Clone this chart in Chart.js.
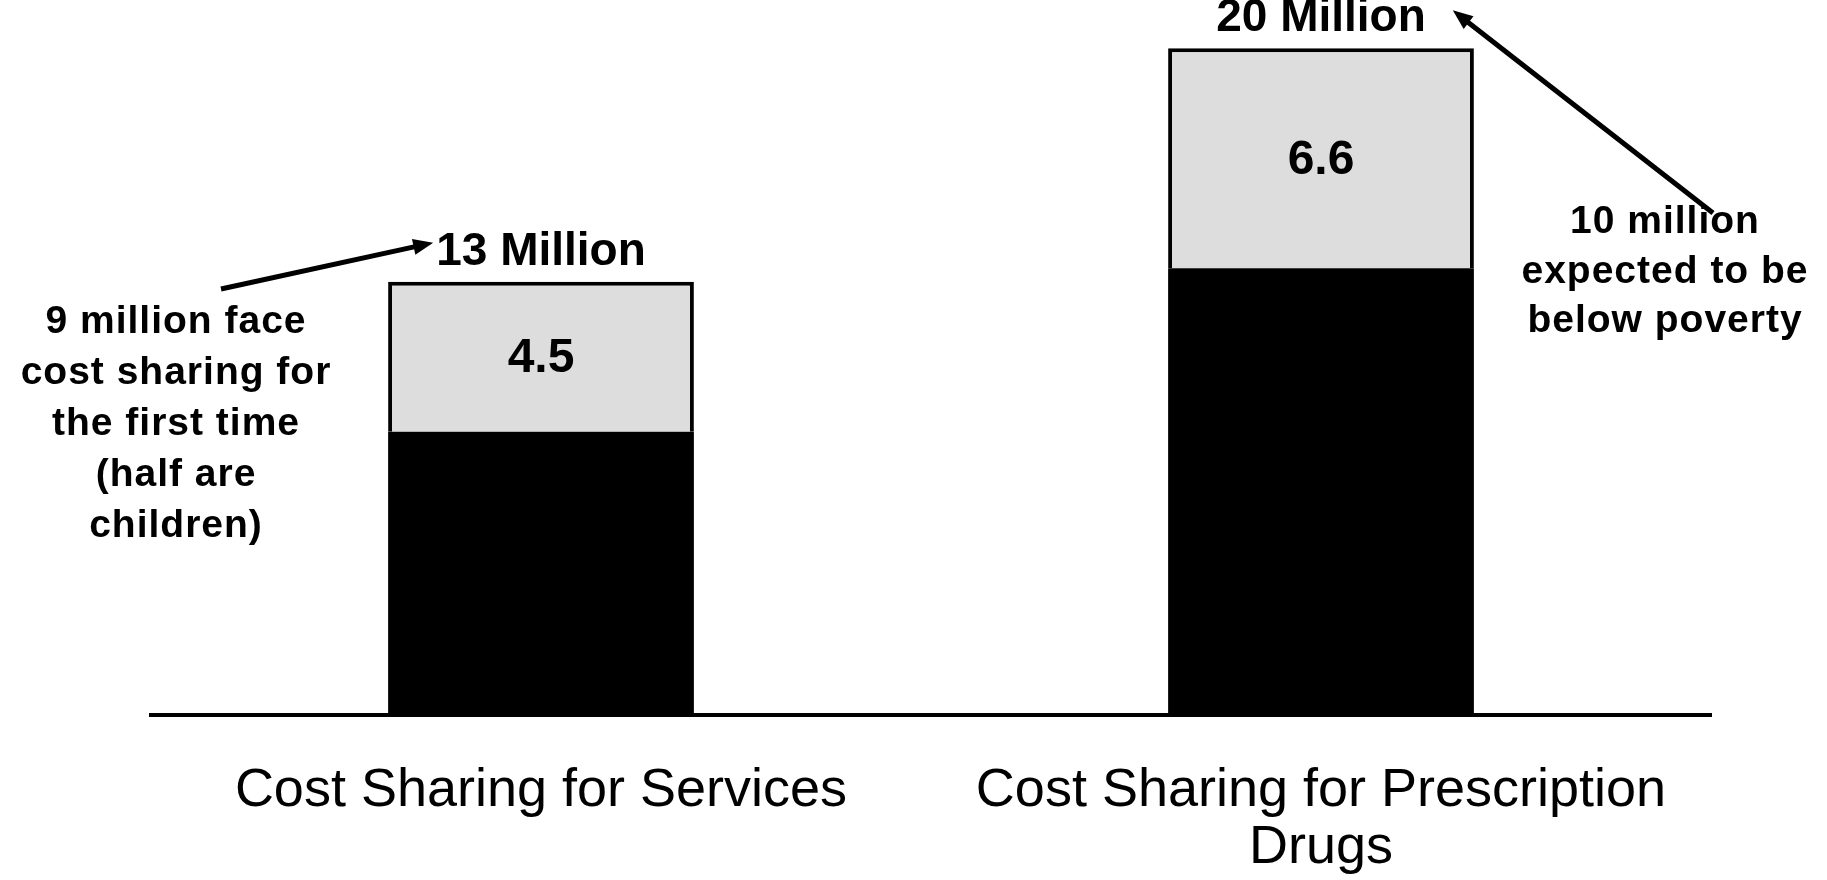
<!DOCTYPE html>
<html>
<head>
<meta charset="utf-8">
<script src="https://cdn.jsdelivr.net/npm/chart.js@4/dist/chart.umd.min.js"></script>
<style>
  html, body { margin: 0; padding: 0; background: #ffffff; }
  #wrap { width: 1827px; height: 880px; }
</style>
</head>
<body>
<div id="wrap"><canvas id="chart" width="1827" height="880"></canvas></div>
<script>
// Enrollees facing cost sharing, in millions
const categories = [["Cost Sharing for Services"], ["Cost Sharing for Prescription", "Drugs"]];
const totalMillions = [13, 20];
const firstTimeMillions = [4.5, 6.6];
const remainingMillions = totalMillions.map((t, i) => +(t - firstTimeMillions[i]).toFixed(1));
const totalLabels = ["13 Million", "20 Million"];
const servicesNote = ["9 million face", "cost sharing for", "the first time", "(half are", "children)"];
const drugsNote = ["10 million", "expected to be", "below poverty"];

const FONT = '"Liberation Sans", Arial, Helvetica, sans-serif';

function drawArrow(ctx, x1, y1, x2, y2) {
  const ang = Math.atan2(y2 - y1, x2 - x1);
  const head = 20, half = 8;
  ctx.save();
  ctx.strokeStyle = '#000';
  ctx.fillStyle = '#000';
  ctx.lineWidth = 5;
  ctx.beginPath();
  ctx.moveTo(x1, y1);
  ctx.lineTo(x2 - Math.cos(ang) * head * 0.8, y2 - Math.sin(ang) * head * 0.8);
  ctx.stroke();
  ctx.beginPath();
  ctx.moveTo(x2, y2);
  ctx.lineTo(x2 - Math.cos(ang) * head - Math.sin(ang) * half, y2 - Math.sin(ang) * head + Math.cos(ang) * half);
  ctx.lineTo(x2 - Math.cos(ang) * head + Math.sin(ang) * half, y2 - Math.sin(ang) * head - Math.cos(ang) * half);
  ctx.closePath();
  ctx.fill();
  ctx.restore();
}

function drawNote(ctx, lines, cx, firstBaseline, step) {
  ctx.save();
  ctx.font = 'bold 39px ' + FONT;
  if ('letterSpacing' in ctx) ctx.letterSpacing = '1px';
  ctx.fillStyle = '#000';
  ctx.textAlign = 'center';
  ctx.textBaseline = 'alphabetic';
  lines.forEach((t, i) => ctx.fillText(t, cx, firstBaseline + i * step));
  ctx.restore();
}

const annotations = {
  id: 'annotations',
  afterDraw(chart) {
    const ctx = chart.ctx;
    const upper = chart.getDatasetMeta(1).data;

    // values inside the upper segments
    ctx.save();
    ctx.fillStyle = '#000';
    ctx.textAlign = 'center';
    ctx.textBaseline = 'middle';
    ctx.font = 'bold 48px ' + FONT;
    upper.forEach((bar, i) => {
      ctx.fillText(String(firstTimeMillions[i]), bar.x, (bar.y + bar.base) / 2 + 2);
    });

    // totals above each stack
    ctx.font = 'bold 46px ' + FONT;
    ctx.textBaseline = 'alphabetic';
    const labelBoxes = upper.map((bar, i) => {
      const baseline = bar.y - 17;
      ctx.fillText(totalLabels[i], bar.x, baseline);
      const w = ctx.measureText(totalLabels[i]).width;
      return { left: bar.x - w / 2, right: bar.x + w / 2, baseline };
    });
    ctx.restore();

    // side notes with pointers to the totals
    drawNote(ctx, servicesNote, 176, 333, 51);
    drawNote(ctx, drugsNote, 1665, 233, 49.5);

    drawArrow(ctx, 221, 289, labelBoxes[0].left - 3, labelBoxes[0].baseline - 22);
    drawArrow(ctx, 1713, 213, labelBoxes[1].right + 27, labelBoxes[1].baseline - 21);
  }
};

new Chart(document.getElementById('chart'), {
  type: 'bar',
  data: {
    labels: categories,
    datasets: [
      {
        label: 'Already facing cost sharing',
        data: remainingMillions,
        backgroundColor: '#000000',
        borderWidth: 0,
        barPercentage: 0.392,
        categoryPercentage: 1
      },
      {
        label: 'Facing cost sharing for the first time',
        data: firstTimeMillions,
        backgroundColor: '#dddddd',
        borderColor: '#000000',
        borderWidth: 4,
        borderSkipped: 'bottom',
        barPercentage: 0.392,
        categoryPercentage: 1
      }
    ]
  },
  options: {
    responsive: false,
    animation: false,
    devicePixelRatio: 1,
    layout: { padding: { left: 151, right: 116, top: 15, bottom: 0 } },
    plugins: {
      legend: { display: false },
      tooltip: { enabled: false },
      title: { display: false }
    },
    scales: {
      x: {
        stacked: true,
        grid: { display: false, drawTicks: false },
        border: { display: true, color: '#000000', width: 4 },
        ticks: {
          color: '#000000',
          font: { family: FONT, size: 54, lineHeight: 57 / 54 },
          padding: 48,
          maxRotation: 0,
          autoSkip: false
        },
        afterFit(scale) { scale.height = 165; }
      },
      y: {
        stacked: true,
        display: false,
        min: 0,
        max: 21
      }
    }
  },
  plugins: [annotations]
});
</script>
</body>
</html>
